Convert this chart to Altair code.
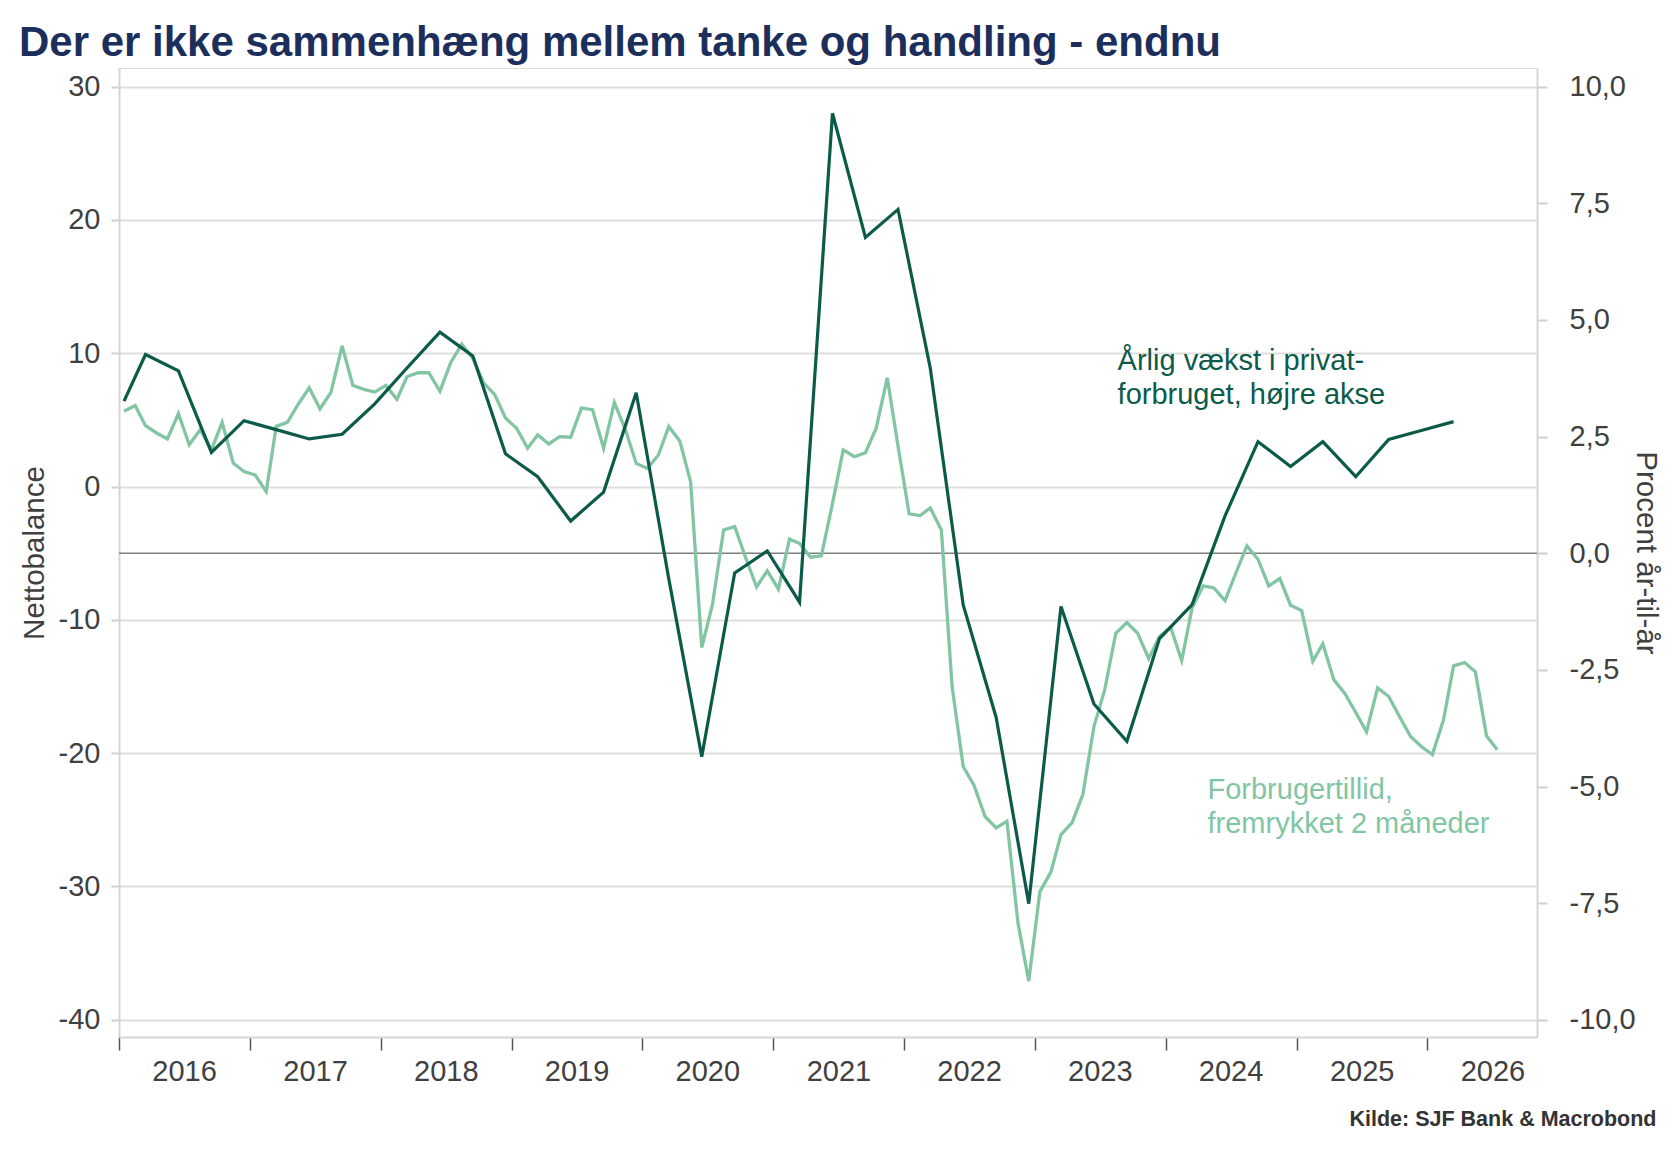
import altair as alt
import pandas as pd

# ---------------- data ----------------
# Forbrugertillid (nettobalance), monthly, fremrykket 2 måneder: Jan 2016 .. Jul 2026
tillid_start = "2016-01-01"
tillid = [
    5.65, 6.08, 4.57, 4.02, 3.57, 5.48, 3.14, 4.27, 2.76, 4.82, 1.76, 1.13,          # 2016
    0.88, -0.38, 4.52, 4.82, 6.16, 7.41, 5.83, 7.09, 10.55, 7.59, 7.29, 7.09,       # 2017
    7.59, 6.55, 8.24, 8.54, 8.54, 7.15, 9.29, 10.68, 9.6, 7.78, 6.9, 5.14,          # 2018
    4.38, 2.87, 3.88, 3.2, 3.75, 3.7, 5.89, 5.77, 2.87, 6.32, 4.26, 1.74,           # 2019
    1.36, 2.37, 4.51, 3.4, 0.35, -12.07, -8.84, -3.25, -3.0, -5.3, -7.53, -6.32,    # 2020
    -7.7, -3.93, -4.26, -5.3, -5.19, -1.28, 2.75, 2.24, 2.54, 4.38, 8.16, 3.05,     # 2021
    -2.04, -2.17, -1.6, -3.25, -15.0, -21.0, -22.4, -24.75, -25.6, -25.1, -32.75, -37.1,  # 2022
    -30.4, -28.9, -26.1, -25.2, -23.1, -18.0, -15.25, -11.0, -10.2, -11.0, -12.9, -11.25, # 2023
    -10.55, -13.05, -9.1, -7.45, -7.6, -8.55, -6.5, -4.45, -5.45, -7.45, -6.9, -8.9,      # 2024
    -9.3, -13.1, -11.8, -14.5, -15.5, -16.95, -18.4, -15.1, -15.75, -17.25, -18.75, -19.5, # 2025
    -20.1, -17.5, -13.45, -13.2, -13.9, -18.7, -19.75,                                     # 2026
]

# Årlig vækst i privatforbruget (% år-til-år), quarterly
vaekst_first_date = "2016-01-15"
vaekst_first = 3.26
vaekst_q_start = "2016-03-01"
vaekst = [
    4.26, 3.91, 2.16, 2.84,      # 2016
    2.65, 2.45, 2.55, 3.2,       # 2017
    3.97, 4.74, 4.23, 2.13,      # 2018
    1.64, 0.69, 1.31, 3.44,      # 2019
    -0.55, -4.36, -0.42, 0.05,   # 2020
    -1.05, 9.43, 6.77, 7.37,     # 2021
    3.97, -1.11, -3.52, -7.51,   # 2022
    -1.14, -3.23, -4.03, -1.83,  # 2023
    -1.1, 0.8, 2.39, 1.86,       # 2024
    2.39, 1.64, 2.44, 2.63,      # 2025
    2.82,                        # 2026
]

year_ticks = list(range(2016, 2027))
left_ticks = [-40, -30, -20, -10, 0, 10, 20, 30]
right_ticks = [-10, -7.5, -5, -2.5, 0, 2.5, 5, 7.5, 10]
zero_line = [-5]  # 0 % on right axis == -5 on left axis

ann_dark_text = "Årlig vækst i privat-\nforbruget, højre akse"
ann_light_text = "Forbrugertillid,\nfremrykket 2 måneder"

# ---------------- tables ----------------
m_dates = pd.date_range(tillid_start, periods=len(tillid), freq="MS") + pd.Timedelta(days=14)
df_light = pd.DataFrame({"date": m_dates.strftime("%Y-%m-%d"), "v": tillid})

q_dates = pd.date_range(vaekst_q_start, periods=len(vaekst), freq="3MS") + pd.Timedelta(days=14)
df_dark = pd.DataFrame({
    "date": [vaekst_first_date] + list(q_dates.strftime("%Y-%m-%d")),
    "v": [vaekst_first] + vaekst,
})
df_zero = pd.DataFrame({"v": zero_line})
df_ann_dark = pd.DataFrame({"date": ["2023-08-20"], "v": [8.75], "label": [ann_dark_text]})
df_ann_light = pd.DataFrame({"date": ["2024-04-27"], "v": [-23.4], "label": [ann_light_text]})

# ---------------- style ----------------
DARK = "#0c5a49"
LIGHT = "#82c5a3"
TXT = "#404040"
FONT = "Liberation Sans"
W, H = 1418, 969
LEFT_DOM = [-41.29, 31.4]
RIGHT_DOM = [(LEFT_DOM[0] + 5) / 3.5, (LEFT_DOM[1] + 5) / 3.5]
TICKFS = 29
TITLEFS = 29.5

xscale = alt.Scale(
    type="utc",
    domain=[alt.DateTime(year=2016, month=1, date=1, utc=True),
            alt.DateTime(year=2026, month=11, date=3, utc=True)],
)
xaxis = alt.Axis(
    values=[alt.DateTime(year=y, month=1, date=1, utc=True) for y in year_ticks],
    labelExpr="utcFormat(datum.value, '%Y')",
    labelOffset=65, labelOverlap=False, labelFlush=False, labelBound=False,
    tickSize=13, tickColor="#555555", tickWidth=1.5,
    domainColor="#d6d6d6", domainWidth=2, grid=False,
    labelFontSize=TICKFS, labelColor=TXT, labelPadding=7, labelFont=FONT,
    title="Kilde: SJF Bank & Macrobond", titleFontSize=21.5, titleFontWeight="bold",
    titleColor="#333333", titleFont=FONT, titleAnchor="end", titleAlign="right",
    titleBaseline="alphabetic", titleX=W + 119, titleY=88,
)
lscale = alt.Scale(domain=LEFT_DOM, nice=False, zero=False)
rscale = alt.Scale(domain=RIGHT_DOM, nice=False, zero=False)
laxis = alt.Axis(
    values=left_ticks, title="Nettobalance", grid=True, gridColor="#dedede", gridWidth=2,
    labelExpr="replace(format(datum.value, 'd'), '\u2212', '-')",
    tickSize=8, tickColor="#cfcfcf", tickWidth=2, domainColor="#d6d6d6", domainWidth=2,
    labelFontSize=TICKFS, labelColor=TXT, labelPadding=11, labelFont=FONT,
    titleFontSize=TITLEFS, titleFontWeight="normal", titleColor=TXT, titleFont=FONT,
    titleAngle=-90, titleX=-85, titleY=H / 2, titleAlign="center", titleBaseline="middle",
)
raxis = alt.Axis(
    orient="right", values=right_ticks,
    labelExpr="replace(replace(format(datum.value, '.1f'), '.', ','), '\u2212', '-')",
    grid=False, tickSize=10, tickColor="#cfcfcf", tickWidth=2,
    domainColor="#d6d6d6", domainWidth=2,
    labelFontSize=TICKFS, labelColor=TXT, labelPadding=22, labelFont=FONT,
    title="Procent år-til-år", titleFontSize=TITLEFS, titleFontWeight="normal",
    titleColor=TXT, titleFont=FONT, titleAngle=90, titleX=108, titleY=H / 2,
    titleAlign="center", titleBaseline="middle",
)

zero = alt.Chart(df_zero).mark_rule(color="#808080", strokeWidth=1.6).encode(
    y=alt.Y("v:Q", scale=lscale, axis=laxis)
)
light = alt.Chart(df_light).mark_line(color=LIGHT, strokeWidth=3.3, clip=True).encode(
    x=alt.X("date:T", scale=xscale, axis=xaxis),
    y=alt.Y("v:Q", scale=lscale, axis=laxis),
)
ann_d = alt.Chart(df_ann_dark).mark_text(
    align="left", baseline="alphabetic", lineBreak="\n", lineHeight=34,
    fontSize=29, color=DARK, font=FONT,
).encode(
    x=alt.X("date:T", scale=xscale, axis=xaxis),
    y=alt.Y("v:Q", scale=lscale, axis=laxis),
    text="label:N",
)
ann_l = alt.Chart(df_ann_light).mark_text(
    align="left", baseline="alphabetic", lineBreak="\n", lineHeight=34,
    fontSize=29, color=LIGHT, font=FONT,
).encode(
    x=alt.X("date:T", scale=xscale, axis=xaxis),
    y=alt.Y("v:Q", scale=lscale, axis=laxis),
    text="label:N",
)
left_group = alt.layer(zero, light, ann_d, ann_l)

dark = alt.Chart(df_dark).mark_line(color=DARK, strokeWidth=3.2, clip=True).encode(
    x=alt.X("date:T", scale=xscale, axis=xaxis),
    y=alt.Y("v:Q", scale=rscale, axis=raxis),
)

chart = alt.layer(left_group, dark).resolve_scale(y="independent").properties(
    width=W, height=H,
    autosize=alt.AutoSizeParams(type="none"),
    padding={"left": 119, "top": 68, "right": 143, "bottom": 118},
    title=alt.TitleParams(
        "Der er ikke sammenhæng mellem tanke og handling - endnu",
        anchor="start", frame="group", fontSize=42, fontWeight="bold",
        color="#1c2f5c", font=FONT, dx=-100, dy=42, offset=12, baseline="alphabetic",
    ),
).configure_view(strokeWidth=0).configure(font=FONT, background="white")

chart.save("out.html", embed_options={"renderer": "svg", "actions": False})
